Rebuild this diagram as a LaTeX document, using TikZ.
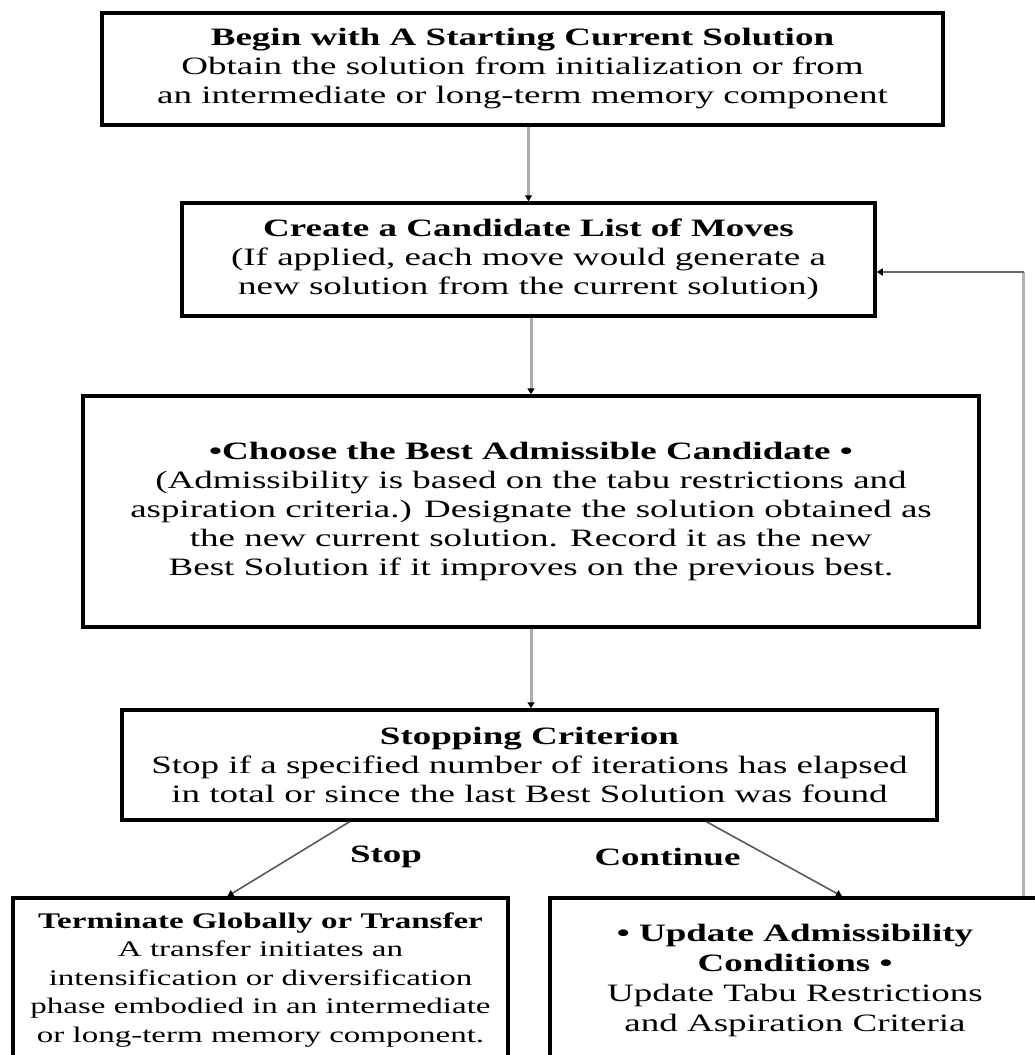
\documentclass[tikz,border=0pt]{standalone}
\usepackage{fontspec}
\setmainfont{Liberation Serif}[FakeStretch=1.48]
\usetikzlibrary{arrows.meta,calc}
\begin{document}
\begin{tikzpicture}[x=1pt,y=-1pt,
  stepbox/.style={draw=black,line width=3.5pt,align=center,inner sep=0pt,
    font=\fontsize{25}{29}\selectfont},
  smallbox/.style={stepbox,font=\fontsize{22.3}{28.5}\selectfont},
  lbl/.style={font=\fontsize{25}{29}\selectfont\bfseries,inner sep=0pt},
  tipd/.tip={Triangle[length=6pt,width=7pt,color=black,fill=black]},
  vlink/.style={draw=black!33,line width=3pt,-tipd},
  branch/.style={draw=black!65,line width=1.6pt,-tipd},
  loopup/.style={draw=black!30,line width=3pt},
  loopin/.style={draw=black!60,line width=2.6pt,-tipd}]
\useasboundingbox (0,0) rectangle (1035,1055);
\clip (0,0) rectangle (1035,1055);

% process boxes
\node[stepbox,minimum width=841pt,minimum height=112pt] (b1) at (522.5,69)
  {\textbf{Begin with A Starting Current Solution}\\
   Obtain the solution from initialization or from\\
   an intermediate or long-term memory component};
\node[stepbox,minimum width=693pt,minimum height=113pt] (b2) at (528.5,259.5)
  {\textbf{Create a Candidate List of Moves}\\
   (If applied, each move would generate a\\
   new solution from the current solution)};
\node[stepbox,minimum width=896pt,minimum height=231pt] (b3) at (531,511.5)
  {\textbf{•Choose the Best Admissible Candidate •}\\
   (Admissibility is based on the tabu restrictions and\\
   aspiration criteria.) Designate the solution obtained as\\
   the new current solution. Record it as the new\\
   Best Solution if it improves on the previous best.};
\node[stepbox,minimum width=815pt,minimum height=110pt] (b4) at (529.5,765)
  {\textbf{Stopping Criterion}\\
   Stop if a specified number of iterations has elapsed\\
   in total or since the last Best Solution was found};
\node[smallbox,minimum width=495pt,minimum height=164pt] (b5) at (260.5,980)
  {\textbf{Terminate Globally or Transfer}\\
   A transfer initiates an\\
   intensification or diversification\\
   phase embodied in an intermediate\\
   or long-term memory component.};
\node[stepbox,minimum width=490pt,minimum height=164pt,
      font=\fontsize{25}{30}\selectfont] (b6) at (795,980)
  {\textbf{• Update Admissibility}\\
   \textbf{Conditions •}\\
   Update Tabu Restrictions\\
   and Aspiration Criteria};

% branch labels
\node[lbl] (stoplbl) at (386,857) {Stop};
\node[lbl] (contlbl) at (667.5,857) {Continue};

% main flow
\draw[vlink] (b1.south -| b2.north) -- (b2.north);
\draw[vlink] (b2.south -| b3.north) -- (b3.north);
\draw[vlink] (b3.south) -- (b4.north -| b3.south);
\draw[branch] ([xshift=-180pt]b4.south) -- ([xshift=-33pt]b5.north);
\draw[branch] ([xshift=177pt]b4.south) -- ([xshift=47pt]b6.north);

% loop back to the candidate list
\coordinate (fbfoot) at ([xshift=-18pt]b6.north east);
\coordinate (fbin) at ([yshift=-12.5pt]b2.east);
\coordinate (fbturn) at (fbfoot |- fbin);
\draw[loopup] (fbfoot) -- (fbturn);
\draw[loopin] (fbturn) -- (fbin);
\end{tikzpicture}
\end{document}
